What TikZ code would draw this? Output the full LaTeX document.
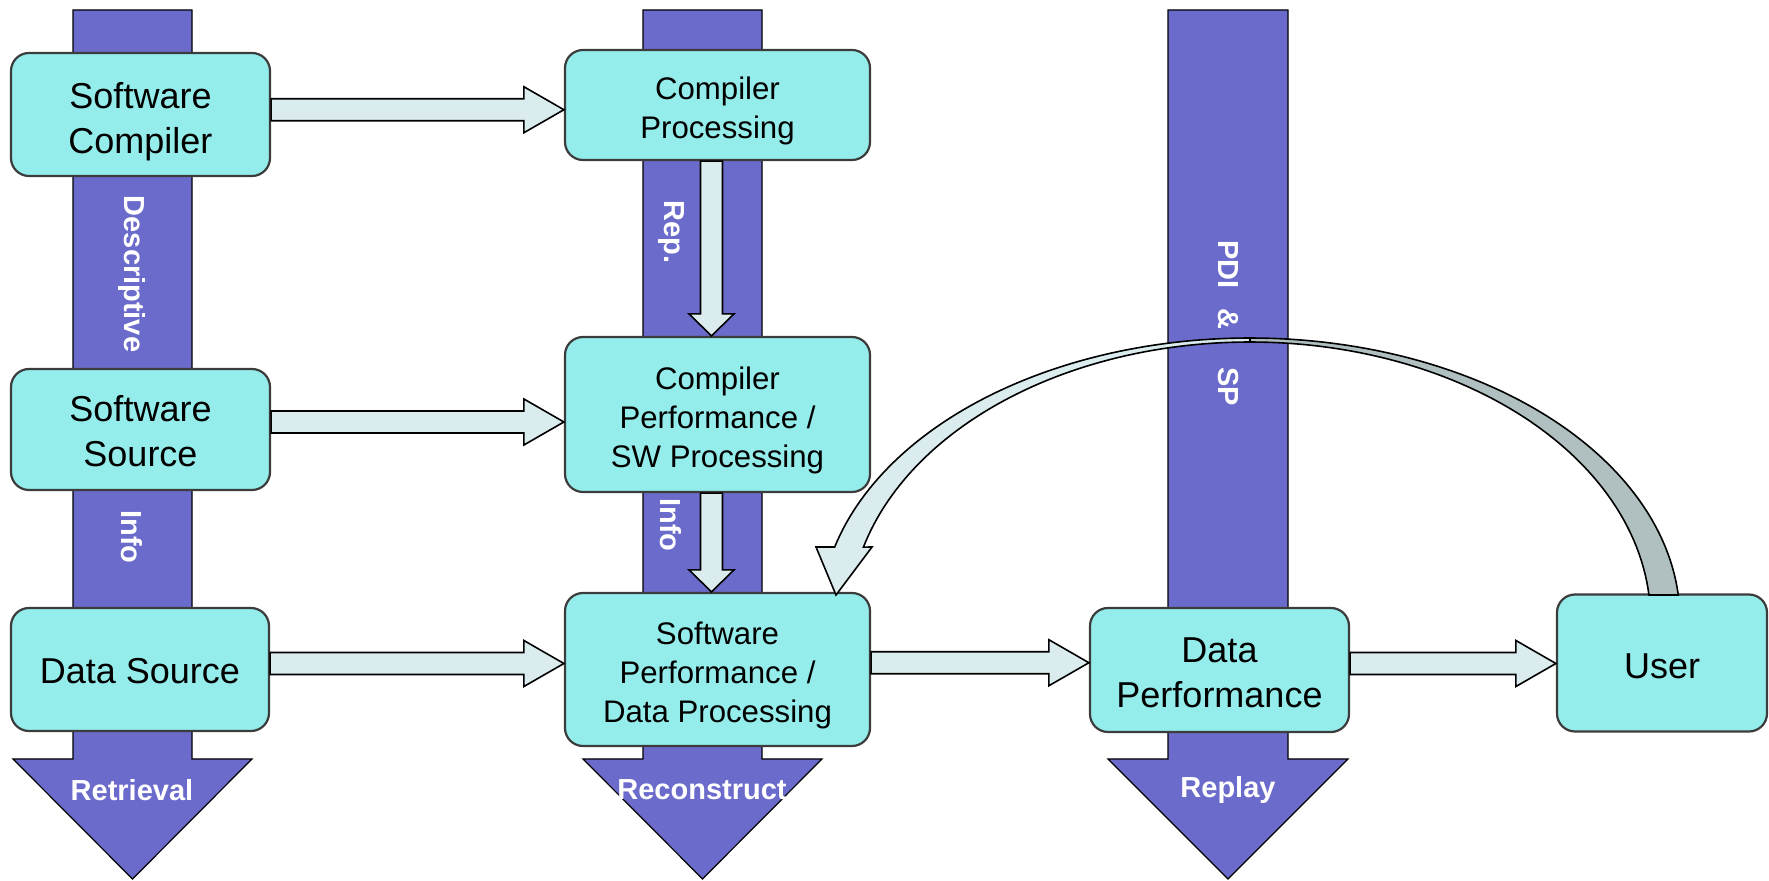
\documentclass[tikz,border=0pt]{standalone}
\usepackage{fontspec}
\setmainfont{Liberation Sans}
\usetikzlibrary{calc}
\definecolor{barc}{RGB}{107,107,204}
\definecolor{boxc}{RGB}{148,237,235}
\definecolor{arrc}{RGB}{218,236,238}
\definecolor{backc}{RGB}{176,192,192}
\definecolor{boxline}{RGB}{60,60,60}
\tikzset{
  box/.style={draw=boxline, line width=1.1pt, fill=boxc, rounded corners=9pt, inner sep=0pt, text=black},
  bigtxt/.style={font=\fontsize{18}{22.5}\selectfont},
  midtxt/.style={font=\fontsize{15.6}{19.5}\selectfont},
  barlbl/.style={text=white, font=\fontsize{14.5}{17}\selectfont\bfseries, inner sep=0pt},
  flowarrow/.style={draw=black, line width=0.8pt, fill=arrc, line join=miter},
  backarrow/.style={draw=black, line width=0.8pt, fill=backc, line join=miter},
  lane/.style={draw=black, line width=0.6pt, fill=barc}
}
\newcommand\boxlines[2]{\raisebox{0pt}[\dimexpr\height+#1+#1\relax][\depth]{\begin{tabular}{@{}c@{}}#2\end{tabular}}}
\newcommand\hblockarrow[3]{\draw[flowarrow] let \p1=(#1.east), \p2=(#2.west), \p3=($(#1.east)!.5!(#2.west)+(0,#3)$) in (\x1,\y3+5.5pt) -- (\x2-20pt,\y3+5.5pt) -- (\x2-20pt,\y3+11.5pt) -- (\x2,\y3) -- (\x2-20pt,\y3-11.5pt) -- (\x2-20pt,\y3-5.5pt) -- (\x1,\y3-5.5pt) -- cycle;}
\newcommand\vblockarrow[3]{\draw[flowarrow] let \p1=(#1.south), \p2=(#2.north), \p3=($(#1.south)!.5!(#2.north)+(#3,0)$) in (\x3-5.5pt,\y1) -- (\x3-5.5pt,\y2+11pt) -- (\x3-11.25pt,\y2+11pt) -- (\x3,\y2) -- (\x3+11.25pt,\y2+11pt) -- (\x3+5.5pt,\y2+11pt) -- (\x3+5.5pt,\y1) -- cycle;}
\begin{document}
\begin{tikzpicture}[x=0.5pt,y=-0.5pt]
\useasboundingbox (0,0) rectangle (1769,881);
% lanes
\draw[lane] (73,10) -- (192,10) -- (192,759) -- (252,759) -- (132.5,879) -- (13,759) -- (73,759) -- cycle;
\draw[lane] (643,10) -- (762,10) -- (762,759) -- (822,759) -- (702.5,879) -- (583,759) -- (643,759) -- cycle;
\draw[lane] (1168,10) -- (1288,10) -- (1288,759) -- (1348,759) -- (1228,879) -- (1108,759) -- (1168,759) -- cycle;
% lane labels
\node[barlbl, rotate=-90] (lDesc) at (132,274) {Descriptive};
\node[barlbl, rotate=-90] (lInfoA) at (132,537) {Info};
\node[barlbl, rotate=-90] (lRep) at (671,232) {Rep.};
\node[barlbl, rotate=-90] (lInfoB) at (671,525) {Info};
\node[barlbl, rotate=-90] (lPDI) at (1228,323) {PDI\hspace{10pt}\&\hspace{19pt}SP};
\node[barlbl] (lRet) at (132,790) {Retrieval};
\node[barlbl] (lRec) at (702,790) {Reconstruct};
\node[barlbl] (lRep2) at (1228,790) {Replay};
% boxes
\node[box, bigtxt, minimum width=129.5pt, minimum height=61.5pt] (sc) at (140.5,114.5) {\boxlines{4pt}{Software\\Compiler}};
\node[box, midtxt, minimum width=152.5pt, minimum height=55pt] (cp) at (717.5,105) {\boxlines{3pt}{Compiler\\Processing}};
\node[box, bigtxt, minimum width=129.5pt, minimum height=60.5pt] (ss) at (140.5,429.5) {\boxlines{3pt}{Software\\Source}};
\node[box, midtxt, minimum width=152.5pt, minimum height=77.5pt] (cperf) at (717.5,414.5) {\boxlines{3pt}{Compiler\\Performance /\\SW Processing}};
\node[box, bigtxt, minimum width=129pt, minimum height=61.5pt] (ds) at (140,669.5) {\boxlines{2.6pt}{Data Source}};
\node[box, midtxt, minimum width=152.5pt, minimum height=76.5pt] (sperf) at (717.5,669.5) {\boxlines{3pt}{Software\\Performance /\\Data Processing}};
\node[box, bigtxt, minimum width=129.5pt, minimum height=62pt] (dp) at (1219.5,670) {\boxlines{3pt}{Data\\Performance}};
\node[box, bigtxt, minimum width=105pt, minimum height=68.5pt] (user) at (1662,663) {\boxlines{3.2pt}{User}};
% straight block arrows
\hblockarrow{sc}{cp}{0}
\hblockarrow{ss}{cperf}{0}
\hblockarrow{ds}{sperf}{-6}
\hblockarrow{sperf}{dp}{-7}
\hblockarrow{dp}{user}{-3}
\vblockarrow{cp}{cperf}{-6}
\vblockarrow{cperf}{sperf}{-6}
% curved arrow from user back to sperf
\coordinate (arcC) at (1250,620);
\begin{scope}[shift={(arcC)}]
\draw[backarrow] plot[domain=5.09:90, samples=60] ({430*cos(\x)},{-282*sin(\x)}) -- plot[domain=90:5.16, samples=60] ({400.6*cos(\x)},{-278*sin(\x)}) -- cycle;
\draw[flowarrow] plot[domain=90:165, samples=60] ({430*cos(\x)},{-282*sin(\x)}) -- (-434,-73) -- (-414,-25) -- (-378,-73) -- plot[domain=164.8:90, samples=60] ({400.6*cos(\x)},{-278*sin(\x)}) -- cycle;
\end{scope}
\end{tikzpicture}
\end{document}
